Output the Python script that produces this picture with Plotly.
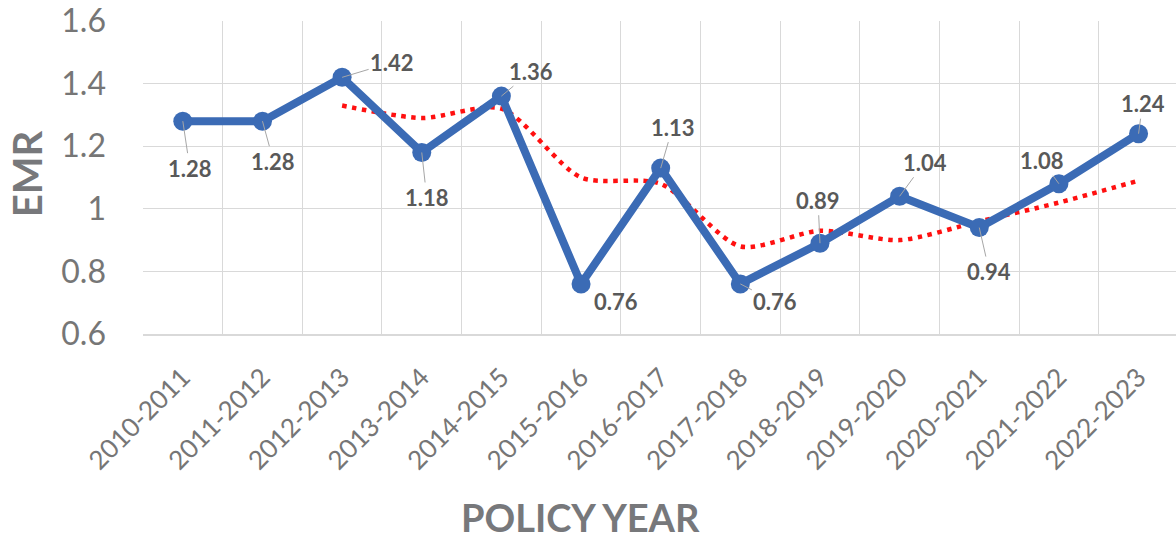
import plotly.graph_objects as go

years = ["2010-2011", "2011-2012", "2012-2013", "2013-2014", "2014-2015", "2015-2016",
         "2016-2017", "2017-2018", "2018-2019", "2019-2020", "2020-2021", "2021-2022", "2022-2023"]
emr = [1.28, 1.28, 1.42, 1.18, 1.36, 0.76, 1.13, 0.76, 0.89, 1.04, 0.94, 1.08, 1.24]
# 3-period moving average trend
trend = [None, None, 1.33, 1.29, 1.32, 1.10, 1.08, 0.88, 0.93, 0.90, 0.96, 1.02, 1.09]
y_ticks = [0.6, 0.8, 1.0, 1.2, 1.4, 1.6]

# label offsets (pixels) relative to each point and whether a leader line is drawn
label_dx = [7, 11, 50, 5, 30, 35, 12, 35, -2, 25, 10, -17, 4]
label_dy = [47, 40, -15, 45, -25, 18, -41, 18, -43, -34, 44, -23, -30]
leader = [True, True, True, True, True, False, True, True, True, True, True, True, True]

BLUE = "#3B6BB5"
GRID = "#D9D9D9"
TICK = "#767676"
LABEL = "#595959"
TITLE = "#77787B"
FONT = "Lato"

fig = go.Figure()
fig.add_trace(go.Scatter(
    x=years, y=trend, mode="lines",
    line=dict(color="#FF1010", width=4.5, dash="4.5px,5.5px", shape="spline", smoothing=0.75),
    hoverinfo="skip", showlegend=False,
))
fig.add_trace(go.Scatter(
    x=years, y=emr, mode="lines+markers",
    line=dict(color=BLUE, width=8),
    marker=dict(color=BLUE, size=19),
    showlegend=False,
))

for i, (yr, v) in enumerate(zip(years, emr)):
    txt = f"{v:.2f}"
    if leader[i]:
        fig.add_annotation(
            x=yr, y=v, text=txt, showarrow=True, arrowhead=0, arrowwidth=1,
            arrowcolor="#A6A6A6", ax=label_dx[i], ay=label_dy[i], standoff=0,
            font=dict(family=FONT, size=22, color=LABEL, weight="bold"),
        )
    else:
        fig.add_annotation(
            x=yr, y=v, text=txt, showarrow=False,
            xshift=label_dx[i], yshift=-label_dy[i],
            font=dict(family=FONT, size=22, color=LABEL, weight="bold"),
        )

fig.add_annotation(
    text="EMR", xref="paper", yref="paper", x=-0.112, y=0.511,
    xanchor="center", yanchor="middle", textangle=-90, showarrow=False,
    font=dict(family=FONT, size=40, color=TITLE, weight="bold"),
)
fig.add_annotation(
    text="POLICY YEAR", xref="paper", yref="paper", x=0.4237, y=-0.585,
    xanchor="center", yanchor="middle", showarrow=False,
    font=dict(family=FONT, size=38, color=TITLE, weight="bold"),
)

fig.update_layout(
    width=1176, height=539,
    margin=dict(l=143, r=0, t=21, b=205),
    plot_bgcolor="white", paper_bgcolor="white",
    font=dict(family=FONT, color=TICK),
)
fig.update_xaxes(
    type="category", range=[-0.5, 12.47], tickson="boundaries",
    showgrid=True, gridcolor=GRID, gridwidth=1,
    showline=True, linecolor=GRID, linewidth=1.5,
    ticks="", tickangle=-45, tickfont=dict(family=FONT, size=26, color=TICK),
    ticklabelstandoff=16, zeroline=False,
)
fig.update_yaxes(
    range=[0.6, 1.6], tickvals=y_ticks, ticktext=["0.6", "0.8", "1", "1.2", "1.4", "1.6"],
    showgrid=True, gridcolor=GRID, gridwidth=1, zeroline=False,
    ticks="", tickfont=dict(family=FONT, size=32, color=TICK),
    ticklabelstandoff=36,
)

fig.write_html("out.html", config={"displayModeBar": False},
               post_script="document.body.style.margin='0';document.body.style.overflow='hidden';")
